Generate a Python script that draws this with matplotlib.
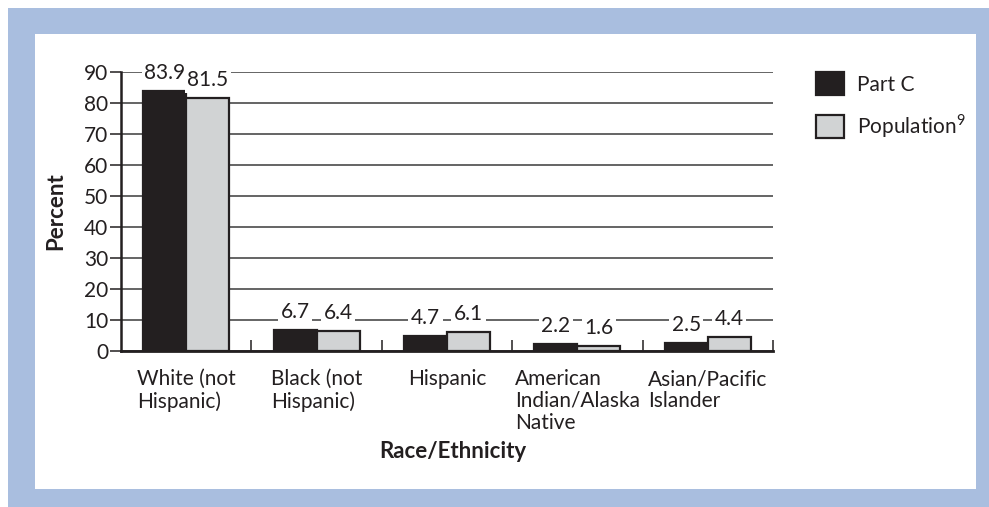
import numpy as np
import matplotlib.pyplot as plt
from matplotlib.patches import Rectangle, Patch

plt.rcParams['font.family'] = ['Lato', 'DejaVu Sans']
plt.rcParams['mathtext.fontset'] = 'custom'
plt.rcParams['mathtext.rm'] = 'Lato'

# Data
categories = ['White (not\nHispanic)', 'Black (not\nHispanic)', 'Hispanic',
              'American\nIndian/Alaska\nNative', 'Asian/Pacific\nIslander']
part_c = [83.9, 6.7, 4.7, 2.2, 2.5]
population = [81.5, 6.4, 6.1, 1.6, 4.4]
y_ticks = [0, 10, 20, 30, 40, 50, 60, 70, 80, 90]

W, H = 989, 507
ink = '#231f20'
dark = '#231f20'
light = '#d1d3d4'
blue = '#a9bedf'
fs = 15

fig = plt.figure(figsize=(W / 100, H / 100), dpi=100)


def px_rect(x0, y0, x1, y1, color):
    # pixel box (top-left origin) -> figure fraction rectangle
    fig.add_artist(Rectangle((x0 / W, 1 - y1 / H), (x1 - x0) / W, (y1 - y0) / H,
                             transform=fig.transFigure, facecolor=color,
                             edgecolor='none', zorder=-10))


# blue frame with white panel
px_rect(8, 8, W, H, blue)
px_rect(35, 34, 976, 489, 'white')

ax_l, ax_r, ax_top, ax_bot = 121, 773, 72, 351
ax = fig.add_axes([ax_l / W, 1 - ax_bot / H, (ax_r - ax_l) / W, (ax_bot - ax_top) / H])
ax.set_facecolor('none')

x = np.arange(len(categories))
bw = 0.33
b1 = ax.bar(x - bw / 2, part_c, bw, color=dark, edgecolor=ink, linewidth=1.6, zorder=3)
b2 = ax.bar(x + bw / 2, population, bw, color=light, edgecolor=ink, linewidth=1.6, zorder=3)

for bars, vals in [(b1, part_c), (b2, population)]:
    for rect, v in zip(bars, vals):
        ax.annotate(f'{v:.1f}', (rect.get_x() + rect.get_width() / 2, v),
                    xytext=(0, 6), textcoords='offset points',
                    ha='center', va='bottom', fontsize=fs, color=ink, zorder=4,
                    bbox=dict(boxstyle='square,pad=0.12', facecolor='white', edgecolor='none'))

ax.set_xlim(-0.5, len(categories) - 0.5)
ax.set_ylim(0, 90)
ax.set_yticks(y_ticks)
ax.yaxis.grid(True, color='#3a3a3a', linewidth=1.1, zorder=0)
ax.set_axisbelow(True)

for s in ['top', 'right']:
    ax.spines[s].set_visible(False)
ax.spines['left'].set_linewidth(1.8)
ax.spines['bottom'].set_linewidth(2.0)
ax.spines['left'].set_color(ink)
ax.spines['bottom'].set_color(ink)
ax.spines['left'].set_zorder(5)
ax.spines['bottom'].set_zorder(5)

ax.tick_params(axis='y', direction='out', length=8, width=1.1, color=ink,
               labelsize=fs, labelcolor=ink, pad=1)
ax.set_xticks(x)
ax.set_xticklabels(categories, fontsize=fs, color=ink, linespacing=1.12,
                   multialignment='left', va='top')
ax.tick_params(axis='x', which='major', length=0, pad=13)
ax.set_xticks(np.arange(len(categories)) + 0.5, minor=True)
ax.tick_params(axis='x', which='minor', direction='in', length=8, width=1.1, color=ink)

fig.text(453 / W, 1 - 452 / H, 'Race/Ethnicity', ha='center', va='center',
         fontsize=16, fontweight='bold', color=ink)
fig.text(56 / W, 1 - 211 / H, 'Percent', ha='center', va='center', rotation=90,
         fontsize=16, fontweight='bold', color=ink)

handles = [Patch(facecolor=dark, edgecolor=ink, linewidth=1.6),
           Patch(facecolor=light, edgecolor=ink, linewidth=1.6)]
fig.legend(handles, ['Part C', r'Population$^{\mathrm{9}}$'], loc='upper left',
           bbox_to_anchor=(816 / W, 1 - 72 / H), frameon=False, fontsize=fs,
           handlelength=1.35, handleheight=1.35, handletextpad=0.6,
           labelspacing=0.8, borderpad=0, borderaxespad=0, labelcolor=ink)

fig.savefig('out.png', dpi=100)
